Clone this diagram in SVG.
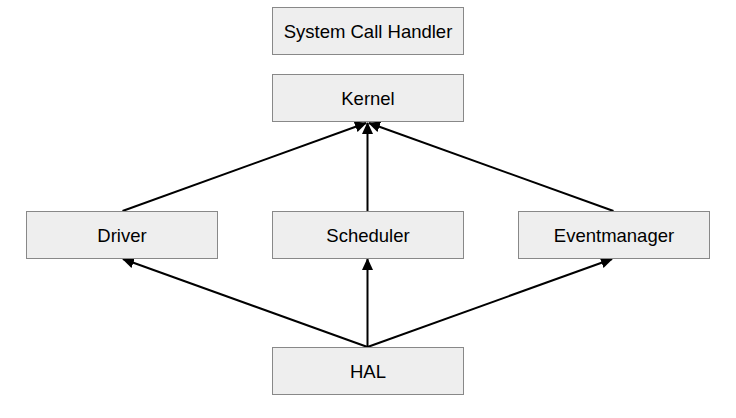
<svg xmlns="http://www.w3.org/2000/svg" width="736" height="418" viewBox="0 0 736 418">
<style>
.box{fill:#eeeeee;stroke:#888888;stroke-width:1}
.lbl{font-family:"Liberation Sans",Arial,sans-serif;font-size:18.5px;fill:#000;text-anchor:middle;dominant-baseline:central}
.edge{stroke:#000;stroke-width:2;fill:none;marker-end:url(#ah)}
</style>
<defs>
<marker id="ah" markerWidth="12" markerHeight="12" refX="11" refY="6" orient="auto" markerUnits="userSpaceOnUse" viewBox="0 0 12 12">
<path d="M0,0.5 L12,6 L0,11.5 z" fill="#000"/>
</marker>
</defs>
<rect width="736" height="418" fill="#fff"/>
<g id="connectors">
<line class="edge" x1="122.5" y1="211" x2="366" y2="123"/>
<line class="edge" x1="367.5" y1="211" x2="367.5" y2="123"/>
<line class="edge" x1="613.5" y1="211" x2="369" y2="123"/>
<line class="edge" x1="367.5" y1="347" x2="123" y2="259"/>
<line class="edge" x1="367.5" y1="347" x2="367.5" y2="259"/>
<line class="edge" x1="367.5" y1="347" x2="612" y2="259"/>
</g>
<g id="syscall"><rect class="box" x="272.5" y="7.5" width="191" height="47"/><text class="lbl" x="368" y="31">System Call Handler</text></g>
<g id="kernel"><rect class="box" x="272.5" y="74.5" width="191" height="47"/><text class="lbl" x="368" y="98">Kernel</text></g>
<g id="driver"><rect class="box" x="26.5" y="211.5" width="191" height="47"/><text class="lbl" x="122" y="235">Driver</text></g>
<g id="scheduler"><rect class="box" x="272.5" y="211.5" width="191" height="47"/><text class="lbl" x="368" y="235">Scheduler</text></g>
<g id="eventmanager"><rect class="box" x="518.5" y="211.5" width="191" height="47"/><text class="lbl" x="614" y="235">Eventmanager</text></g>
<g id="hal"><rect class="box" x="272.5" y="347.5" width="191" height="47"/><text class="lbl" x="368" y="371">HAL</text></g>
</svg>
